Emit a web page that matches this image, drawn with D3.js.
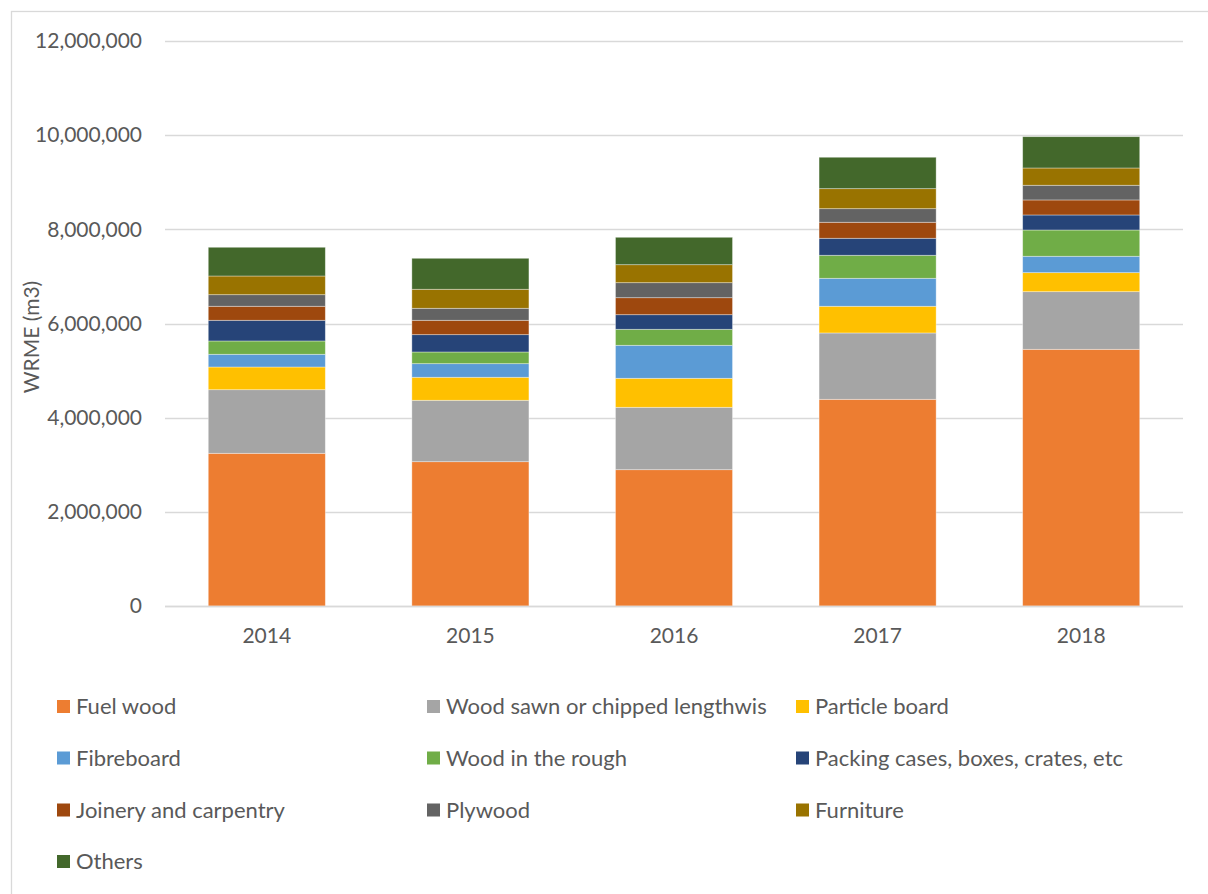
<!DOCTYPE html>
<html>
<head>
<meta charset="utf-8">
<script src="https://cdn.jsdelivr.net/npm/d3@7"></script>
<style>
  html, body { margin: 0; padding: 0; background: #fff; }
  svg { display: block; }
  text { font-family: Lato, "Open Sans", sans-serif; fill: #595959; }
</style>
</head>
<body>
<svg id="chart" width="1208" height="894"></svg>
<script>
const years = ["2014", "2015", "2016", "2017", "2018"];
const seriesNames = [
  "Fuel wood",
  "Wood sawn or chipped lengthwis",
  "Particle board",
  "Fibreboard",
  "Wood in the rough",
  "Packing cases, boxes, crates, etc",
  "Joinery and carpentry",
  "Plywood",
  "Furniture",
  "Others"
];
const seriesColors = ["#ED7D31", "#A5A5A5", "#FFC000", "#5B9BD5", "#70AD47", "#264478", "#9E480E", "#636363", "#997300", "#43682B"];

const fuelWood      = [3243000, 3065000, 2895000, 4390000, 5452000];
const woodSawn      = [1351000, 1304000, 1325000, 1409000, 1224000];
const particleBoard = [482000, 489000, 616000, 567000, 404000];
const fibreboard    = [270000, 289000, 701000, 594000, 348000];
const woodRough     = [283000, 248000, 340000, 489000, 558000];
const packingCases  = [439000, 368000, 310000, 361000, 319000];
const joinery       = [298000, 305000, 361000, 340000, 319000];
const plywood       = [246000, 255000, 319000, 289000, 312000];
const furniture     = [397000, 404000, 382000, 425000, 367000];
const others        = [610000, 658000, 582000, 667000, 665000];

const yTicks = [0, 2000000, 4000000, 6000000, 8000000, 10000000, 12000000];
const yTitle = "WRME (m3)";

const seriesValues = [fuelWood, woodSawn, particleBoard, fibreboard, woodRough, packingCases, joinery, plywood, furniture, others];

const table = years.map((y, i) => {
  const row = { year: y };
  seriesNames.forEach((n, k) => row[n] = seriesValues[k][i]);
  return row;
});

const svg = d3.select("#chart");

// outer chart border
svg.append("rect")
  .attr("x", 11.5).attr("y", 11.5)
  .attr("width", 1210).attr("height", 900)
  .attr("fill", "none").attr("stroke", "#d9d9d9").attr("stroke-width", 1.3);

const plot = { left: 165, right: 1183, top: 41, bottom: 606 };

const x = d3.scaleBand().domain(years)
  .range([plot.left, plot.right])
  .paddingInner(0.425).paddingOuter(0.2125);

const y = d3.scaleLinear().domain([0, 12000000]).range([plot.bottom, plot.top]);

// gridlines
svg.append("g").selectAll("line").data(yTicks).join("line")
  .attr("x1", plot.left).attr("x2", plot.right)
  .attr("y1", d => Math.round(y(d)) + 0.5).attr("y2", d => Math.round(y(d)) + 0.5)
  .attr("stroke", "#d9d9d9").attr("stroke-width", 1.3);

// y axis labels
const yAxis = d3.axisLeft(y).tickValues(yTicks).tickSize(0).tickPadding(0)
  .tickFormat(d3.format(","));
const gy = svg.append("g").attr("transform", `translate(142,0)`).call(yAxis);
gy.select(".domain").remove();
gy.selectAll("text").style("font-size", "21px").attr("fill", "#595959")
  .style("font-family", "Lato, 'Open Sans', sans-serif");

// stacked bars
const stack = d3.stack().keys(seriesNames);
const stacked = stack(table);

svg.append("g").selectAll("g").data(stacked).join("g")
  .attr("fill", (d, i) => seriesColors[i])
  .selectAll("rect").data(d => d).join("rect")
  .attr("x", d => x(d.data.year))
  .attr("width", x.bandwidth())
  .attr("y", d => y(d[1]))
  .attr("height", d => y(d[0]) - y(d[1]))
  .attr("stroke", "#ffffff").attr("stroke-opacity", 0.45).attr("stroke-width", 0.8);

// x axis baseline (over bars)
svg.append("line")
  .attr("x1", plot.left).attr("x2", plot.right)
  .attr("y1", plot.bottom + 0.5).attr("y2", plot.bottom + 0.5)
  .attr("stroke", "#d9d9d9").attr("stroke-width", 1.3);

// x axis labels
const xAxis = d3.axisBottom(x).tickSize(0).tickPadding(0);
const gx = svg.append("g").attr("transform", `translate(0,${plot.bottom + 22})`).call(xAxis);
gx.select(".domain").remove();
gx.selectAll("text").style("font-size", "21px").attr("fill", "#595959")
  .style("font-family", "Lato, 'Open Sans', sans-serif");

// y title
svg.append("text")
  .attr("transform", `translate(39,337) rotate(-90)`)
  .attr("text-anchor", "middle")
  .style("font-size", "21px")
  .text(yTitle);

// legend
const legendCols = [57, 427, 796];
const legendRowY = [706.5, 758, 810, 861.5];
const lg = svg.append("g").selectAll("g").data(seriesNames).join("g")
  .attr("transform", (d, i) => `translate(${legendCols[i % 3]},${legendRowY[Math.floor(i / 3)]})`);
lg.append("rect").attr("x", 0).attr("y", -6.5).attr("width", 13).attr("height", 13)
  .attr("fill", (d, i) => seriesColors[i]);
lg.append("text").attr("x", 19).attr("y", 0).attr("dy", "0.35em")
  .style("font-size", "22px").text(d => d);
</script>
</body>
</html>
